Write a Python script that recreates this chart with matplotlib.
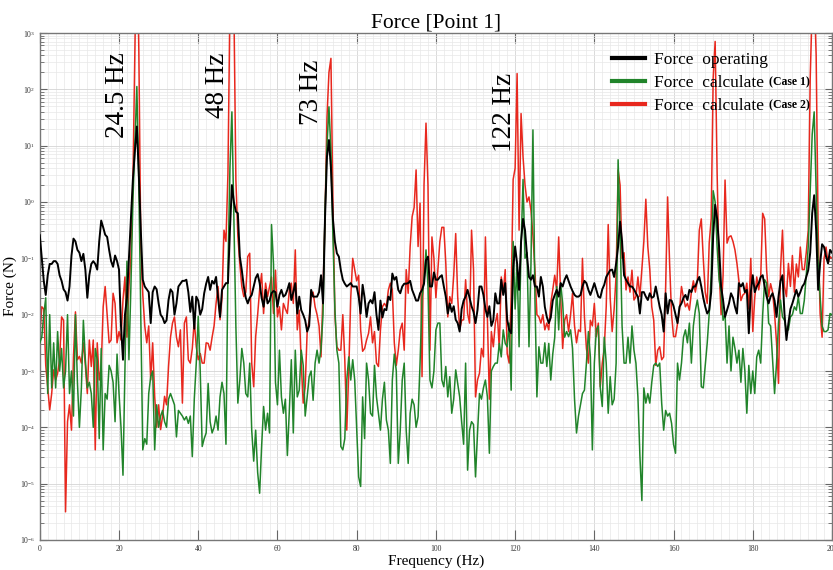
import matplotlib
matplotlib.use("Agg")
import matplotlib.pyplot as plt
import numpy as np
from matplotlib.ticker import MultipleLocator, LogLocator, NullFormatter

plt.rcParams['font.family'] = ['Liberation Serif', 'DejaVu Serif']
plt.rcParams['mathtext.fontset'] = 'custom'
plt.rcParams['mathtext.rm'] = 'Liberation Serif'
plt.rcParams['mathtext.it'] = 'Liberation Serif:italic'

# frequency grid, 0.5 Hz steps
freq = np.arange(0, 200.5, 0.5)

# log10(Force), 20 values (10 Hz) per line
operating_log = [
    -0.59, -1.0, -1.4, -1.65, -1.3, -1.1, -1.1, -1.05, -1.05, -1.1, -1.3, -1.4, -1.55, -1.6, -1.75, -1.5, -0.95, -0.65, -0.7, -0.85,
    -0.9, -1.05, -0.92, -1.2, -1.7, -1.3, -1.1, -1.05, -1.1, -1.2, -0.7, -0.33, -0.45, -0.58, -0.62, -0.85, -1.05, -1.15, -0.95, -1.05,
    -1.2, -2.2, -2.8, -2.0, -1.7, -1.0, -0.3, 0.4, 0.9, 1.34, 0.5, -0.5, -1.38, -1.5, -1.55, -1.6, -2.15, -1.6, -1.5, -1.55,
    -1.8, -2.0, -2.05, -2.15, -2.1, -1.74, -1.55, -1.6, -2.0, -1.8, -1.5, -1.45, -1.4, -1.4, -1.38, -1.6, -1.95, -1.68, -2.25, -1.68,
    -1.75, -2.0, -1.9, -1.62, -1.45, -1.33, -1.56, -1.4, -1.45, -1.33, -1.7, -2.04, -1.56, -1.5, -1.44, -1.44, -0.5, 0.3, 0.0, -0.17,
    -0.2, -0.97, -1.21, -1.5, -1.7, -1.8, -1.7, -1.65, -1.5, -1.35, -1.28, -1.44, -1.7, -1.86, -1.56, -1.8, -1.75, -1.62, -1.58, -1.6,
    -1.86, -1.65, -1.56, -1.68, -1.65, -1.56, -1.44, -1.74, -1.6, -1.44, -1.98, -1.68, -1.92, -2.0, -2.1, -2.3, -2.2, -1.56, -1.68, -1.68,
    -1.68, -1.6, -1.3, -1.8, -0.3, 0.8, 1.1, 0.6, -0.3, -0.7, -0.91, -0.97, -1.21, -1.38, -1.45, -1.5, -1.47, -1.44, -1.5, -1.5,
    -1.5, -1.68, -1.98, -1.47, -1.7, -2.04, -1.8, -1.74, -1.8, -1.6, -2.0, -2.27, -1.75, -2.05, -1.9, -1.92, -1.68, -1.74, -1.27, -1.38,
    -1.33, -1.56, -1.62, -1.5, -1.45, -1.45, -1.44, -1.4, -1.56, -1.65, -1.75, -1.75, -1.62, -1.56, -1.45, -1.03, -0.97, -1.5, -1.5, -1.25,
    -1.38, -1.38, -1.33, -1.3, -1.5, -1.68, -1.98, -1.8, -1.95, -1.85, -2.09, -2.15, -2.3, -1.9, -1.75, -1.68, -1.56, -1.7, -1.85, -1.95,
    -2.15, -1.92, -1.5, -1.5, -1.65, -1.9, -2.04, -1.85, -2.2, -2.1, -1.62, -1.8, -1.8, -1.38, -1.65, -1.44, -2.09, -2.27, -2.33, -1.2,
    -0.79, -1.09, -1.56, -0.7, -0.3, -0.5, -0.95, -1.33, -1.38, -1.3, -1.5, -1.5, -1.68, -1.33, -1.5, -1.86, -2.04, -2.15, -2.05, -1.75,
    -1.65, -1.56, -1.68, -1.44, -1.5, -1.38, -1.3, -1.4, -1.5, -1.58, -1.65, -1.68, -1.68, -1.65, -1.5, -1.4, -1.44, -1.56, -1.65, -1.55,
    -1.44, -1.56, -1.68, -1.7, -1.55, -1.47, -1.33, -1.27, -1.21, -1.2, -1.33, -1.09, -0.79, -0.35, -0.7, -1.3, -1.38, -1.44, -1.5, -1.5,
    -1.55, -1.62, -1.68, -1.98, -1.6, -1.6, -1.68, -1.74, -1.62, -1.7, -1.68, -1.5, -1.68, -1.86, -2.0, -2.3, -1.62, -1.98, -1.74, -1.75,
    -1.85, -2.0, -2.15, -1.86, -1.8, -1.7, -1.65, -1.74, -1.56, -1.6, -1.5, -1.5, -1.4, -1.33, -1.5, -1.7, -1.86, -1.98, -1.92, -1.6,
    -0.6, -0.05, -0.3, -0.8, -1.5, -1.74, -2.04, -1.92, -1.8, -1.62, -1.7, -1.86, -1.98, -1.44, -1.5, -1.44, -1.6, -1.56, -2.33, -1.6,
    -1.3, -1.6, -1.5, -1.44, -1.33, -1.3, -1.5, -1.68, -1.8, -1.68, -1.62, -1.75, -2.04, -1.68, -1.4, -1.3, -1.98, -2.45, -2.15, -1.9,
    -1.8, -1.68, -1.56, -1.68, -1.6, -1.5, -1.45, -1.33, -1.21, -0.9, -0.2, 0.12, -0.5, -1.56, -1.09, -0.75, -0.8, -0.97, -1.09, -0.85,
    -0.9,
]

case1_log = [
    -2.5, -2.4, -2.0, -1.7, -3.4, -2.0, -3.3, -2.5, -3.3, -2.3, -3.0, -2.6, -3.3, -3.0, -2.0, -3.4, -3.0, -3.8, -2.0, -3.2,
    -4.0, -3.3, -2.1, -2.8, -3.3, -3.2, -3.4, -4.0, -2.6, -2.8, -4.2, -2.6, -4.4, -3.4, -3.5, -2.9, -3.0, -3.2, -3.9, -2.7,
    -3.4, -4.0, -4.85, -2.9, -1.05, -2.8, -1.5, 0.0, 1.0, 2.05, 0.3, -2.0, -4.4, -4.2, -4.3, -3.4, -3.1, -3.0, -4.4, -3.6,
    -4.0, -3.8, -3.7, -3.9, -4.0, -3.5, -3.4, -3.5, -3.6, -4.17, -3.7, -3.75, -3.8, -3.87, -3.81, -3.93, -3.8, -4.52, -3.5, -2.86,
    -2.03, -3.0, -4.34, -4.2, -4.1, -3.22, -3.9, -4.1, -4.0, -3.8, -4.05, -3.46, -3.2, -3.4, -4.3, -1.2, 0.6, 1.6, -0.3, -2.2,
    -3.57, -3.16, -2.6, -2.86, -3.4, -3.46, -2.86, -4.05, -4.6, -4.05, -4.8, -5.17, -4.34, -3.63, -4.05, -3.75, -4.1, -0.4, -1.1, -3.2,
    -3.6, -2.63, -3.46, -3.75, -3.5, -4.5, -3.7, -2.8, -4.1, -2.63, -3.46, -3.34, -2.63, -2.9, -3.8, -3.46, -3.1, -3.0, -3.52, -2.86,
    -2.63, -2.86, -2.6, -2.0, -0.2, 1.0, 1.69, 0.9, -0.6, -1.9, -2.63, -2.86, -4.34, -4.4, -4.2, -3.16, -2.75, -3.16, -2.8, -3.16,
    -4.0, -4.88, -5.05, -3.46, -4.2, -2.86, -3.16, -3.75, -3.8, -2.9, -3.46, -3.75, -4.05, -3.5, -3.2, -3.87, -4.05, -4.64, -3.16, -2.7,
    -3.0, -4.64, -4.05, -3.16, -2.86, -4.05, -4.64, -3.75, -3.5, -3.6, -4.0, -3.81, -2.86, -1.7, -1.4, -0.85, -1.5, -3.16, -3.3, -3.0,
    -2.27, -2.15, -2.15, -3.16, -3.28, -2.92, -3.46, -3.1, -3.75, -3.5, -2.98, -3.22, -3.46, -3.9, -4.3, -2.86, -4.76, -4.05, -3.9, -3.95,
    -4.88, -4.11, -3.4, -3.5, -3.3, -3.16, -3.46, -4.46, -3.0, -2.92, -2.86, -2.86, -2.51, -2.75, -2.27, -2.51, -2.57, -2.15, -3.34, -0.7,
    -1.9, -1.09, -2.57, -0.8, 0.4, -1.0, -0.9, -2.57, -1.1, 1.28, -1.7, -3.46, -2.57, -2.86, -2.86, -2.5, -2.92, -2.51, -3.16, -2.7,
    -2.4, -1.5, -2.27, -1.44, -1.8, -2.4, -2.3, -2.39, -2.27, -2.6, -3.5, -4.1, -3.8, -3.6, -3.4, -3.34, -2.86, -2.3, -2.75, -4.4,
    -2.86, -2.27, -2.2, -3.3, -3.63, -2.4, -2.86, -3.75, -3.1, -3.6, -3.5, -2.86, 0.75, -0.5, -2.2, -2.86, -2.86, -2.4, -2.86, -2.2,
    -2.63, -2.86, -3.46, -4.5, -5.3, -3.3, -3.57, -3.4, -3.57, -3.2, -2.9, -2.86, -2.92, -2.86, -3.57, -4.05, -3.7, -3.8, -3.75, -3.93,
    -4.3, -4.46, -2.86, -3.16, -2.86, -2.4, -2.27, -2.5, -2.15, -2.86, -2.2, -1.92, -1.74, -1.98, -3.28, -3.3, -2.9, -2.5, -1.98, -1.3,
    0.2, 0.0, -0.8, -1.38, -1.6, -2.1, -1.98, -2.86, -2.2, -3.0, -2.4, -2.6, -2.86, -2.63, -3.2, -2.6, -3.0, -3.75, -2.9, -3.4,
    -3.0, -3.4, -2.75, -2.63, -2.86, -2.0, -1.38, -1.44, -2.15, -2.2, -2.8, -3.4, -2.86, -2.15, -1.74, -2.04, -2.1, -2.27, -2.27, -2.04,
    -2.0, -1.86, -1.92, -1.68, -1.98, -1.98, -1.75, -1.3, -0.79, 0.2, 1.2, 1.6, 0.2, -1.09, -1.68, -2.2, -2.3, -2.3, -2.27, -1.98,
    -2.0,
]

case2_log = [
    -2.39, -1.86, -1.9, -2.9, -3.3, -3.69, -3.4, -2.98, -3.16, -3.04, -2.8, -2.04, -2.1, -5.5, -3.9, -3.6, -4.05, -2.75, -1.95, -2.8,
    -2.74, -2.86, -2.5, -2.9, -3.4, -2.45, -2.92, -2.45, -4.4, -2.5, -3.16, -2.95, -1.86, -1.5, -2.0, -2.5, -2.45, -1.62, -1.8, -2.5,
    -2.3, -2.45, -1.74, -1.33, -2.4, -1.5, -0.97, 0.3, 2.7, 5.0, 2.7, -0.8, -1.65, -2.2, -2.5, -2.2, -3.16, -2.5, -3.45, -4.0,
    -3.6, -4.04, -3.8, -3.45, -3.6, -2.92, -2.4, -2.15, -2.04, -2.4, -2.57, -2.27, -3.57, -2.15, -2.04, -2.8, -2.86, -2.6, -2.1, -2.57,
    -2.8, -2.69, -2.86, -2.86, -2.5, -2.51, -2.63, -2.4, -2.2, -1.8, -1.5, -2.09, -1.7, -0.5, -0.7, 0.51, 3.5, 4.0, 3.5, 0.4,
    -0.6, -1.1, -1.5, -1.68, -1.6, -0.97, -0.91, -2.86, -3.28, -2.39, -2.0, -1.56, -1.27, -1.98, -1.44, -1.68, -1.5, -1.33, -1.98, -1.21,
    -2.04, -1.86, -2.27, -1.8, -1.9, -1.98, -1.56, -1.44, -1.8, -0.85, -2.27, -1.92, -2.86, -3.57, -3.28, -2.3, -2.1, -1.7, -1.6, -1.86,
    -2.0, -2.2, -2.75, -1.6, -0.3, 1.5, 2.3, 2.55, 0.0, -2.0, -2.57, -2.63, -2.63, -2.0, -2.8, -4.05, -3.0, -1.7, -1.0, -1.2,
    -1.4, -1.3, -2.27, -2.65, -2.6, -2.45, -2.33, -2.04, -2.5, -2.3, -2.86, -2.92, -2.27, -1.86, -1.8, -1.86, -1.56, -1.44, -1.56, -2.5,
    -2.9, -2.63, -2.27, -2.15, -2.63, -1.2, -1.62, -0.79, -0.26, -0.1, 0.57, -0.79, -0.02, -3.1, 0.3, 1.4, 0.3, -2.63, -0.62, -1.0,
    -1.7, -1.2, -0.7, -0.45, -0.45, -1.09, -2.04, -1.68, -1.8, -1.3, -0.56, -1.68, -2.27, -2.1, -2.09, -1.38, -1.98, -2.15, -0.5, -1.2,
    -3.46, -3.16, -3.04, -2.6, -2.75, -0.62, -2.1, -3.5, -2.3, -2.57, -2.15, -1.98, -2.6, -1.33, -1.6, -1.2, -2.69, -2.86, -1.68, 0.4,
    0.6, 2.28, -0.5, 1.57, 0.8, 0.3, 0.0, 0.09, -0.15, -0.6, -1.2, -2.0, -2.04, -2.15, -2.0, -2.27, -2.15, -2.27, -1.8, -1.56,
    -1.3, -1.56, -0.62, -1.68, -2.6, -2.1, -2.0, -2.3, -2.0, -1.62, -2.2, -2.5, -2.27, -2.3, -1.0, -2.04, -2.6, -2.86, -2.1, -2.2,
    -1.8, -2.39, -2.15, -3.28, -2.86, -2.6, -1.86, -0.4, -1.7, -2.3, -1.9, -1.3, 0.57, 0.3, -1.0, -0.9, -1.56, -1.33, -1.6, -1.21,
    -1.74, -1.68, -1.33, -1.68, -1.2, -0.7, 0.05, -0.79, -1.2, -1.86, -2.1, -2.9, -2.63, -2.57, -2.8, -2.75, -1.5, 0.09, -1.09, -2.0,
    -2.39, -2.39, -2.15, -1.92, -1.5, -1.7, -1.86, -1.8, -1.92, -1.6, -1.4, -1.6, -1.4, -0.5, -0.3, -1.0, -1.6, -1.8, -0.73, -0.3,
    2.2, 2.85, 0.5, -1.2, -2.0, -1.3, 0.39, -0.73, -0.62, -0.6, -0.7, -0.85, -1.09, -1.4, -1.75, -1.65, -1.62, -1.44, -1.9, -1.0,
    -2.3, -1.7, -1.33, -1.56, -1.33, -0.2, -0.3, -1.21, -1.68, -1.45, -1.6, -1.98, -2.5, -3.22, -1.2, -0.5, -1.5, -1.68, -1.09, -1.5,
    -0.95, -1.6, -1.1, -1.33, -0.8, -1.2, -1.2, -0.9, -0.5, 2.2, 3.5, 3.8, 2.6, -0.5, -1.98, -2.4, -1.0, -0.8, -1.09, -0.97,
    -1.0,
]

assert len(operating_log) == len(freq)
assert len(case1_log) == len(freq)
assert len(case2_log) == len(freq)

peak_labels = ['24.5 Hz', '48 Hz', '73 Hz', '122 Hz']
peak_label_x = [19.7, 44.9, 68.7, 117.3]
peak_label_y = [13.7, 31.0, 23.0, 7.8]

W, H = 833, 570
fig = plt.figure(figsize=(W / 100, H / 100), dpi=100)
ax = fig.add_axes([39.8 / W, 1 - 540 / H, (832 - 39.8) / W, (540 - 33) / H])

l_c2, = ax.plot(freq, 10 ** np.array(case2_log), color='#e8281e', lw=1.1, zorder=2)
l_c1, = ax.plot(freq, 10 ** np.array(case1_log), color='#21842a', lw=1.1, zorder=3)
l_op, = ax.plot(freq, 10 ** np.array(operating_log), color='black', lw=1.4, zorder=4)

ax.set_yscale('log')
ax.set_xlim(0, 200 * (832 - 39.8) / (834.6 - 39.8))
ax.set_ylim(1e-6, 1e3)

ax.set_xticks(np.arange(0, 201, 20))
ax.xaxis.set_minor_locator(MultipleLocator(2))
ax.yaxis.set_major_locator(LogLocator(base=10, numticks=20))
ax.yaxis.set_minor_locator(LogLocator(base=10, subs=np.arange(2, 10), numticks=20))
ax.yaxis.set_minor_formatter(NullFormatter())

ax.tick_params(which='both', direction='in', top=True, right=True, colors='#666666', labelcolor='#333333', labelsize=5.5)
ax.tick_params(axis='x', which='major', length=7, width=0.8)
ax.tick_params(axis='x', which='minor', length=0)
ax.tick_params(axis='y', which='major', length=5, width=0.8)
ax.tick_params(axis='y', which='minor', length=3, width=0.6)
for sp in ax.spines.values():
    sp.set_color('#777777')
    sp.set_linewidth(1.0)

ax.set_axisbelow(True)
ax.grid(which='major', color='#d4d4d4', lw=0.6)
ax.grid(which='minor', color='#e8e8e8', lw=0.5)

ax.set_title('Force [Point 1]', fontsize=15.5, pad=4)
ax.set_xlabel('Frequency (Hz)', fontsize=11, labelpad=1)
ax.set_ylabel('Force (N)', fontsize=11, labelpad=2)

for s, x, y in zip(peak_labels, peak_label_x, peak_label_y):
    ax.text(x, y, s, rotation=90, ha='center', va='bottom', fontsize=19.5, zorder=6)

leg = ax.legend(handles=[l_op, l_c1, l_c2],
                labels=['Force  operating', 'Force  calculate', 'Force  calculate'],
                loc='upper left', bbox_to_anchor=(612 / W, 1 - 52 / H), bbox_transform=fig.transFigure,
                frameon=False, fontsize=12.5, handlelength=1.9, handletextpad=0.5,
                labelspacing=0.4, borderpad=0, borderaxespad=0)
for h in leg.legend_handles:
    h.set_linewidth(3.0)

# small "(Case n)" suffixes placed right after the legend labels
fig.canvas.draw()
for t, s in zip(leg.get_texts()[1:], ['(Case 1)', '(Case 2)']):
    bb = t.get_window_extent()
    fig.text((bb.x1 + 5) / W, (bb.y0 + 3) / H, s, fontsize=8.5, fontweight='bold', va='bottom', ha='left')

fig.savefig('out.png', dpi=100)
